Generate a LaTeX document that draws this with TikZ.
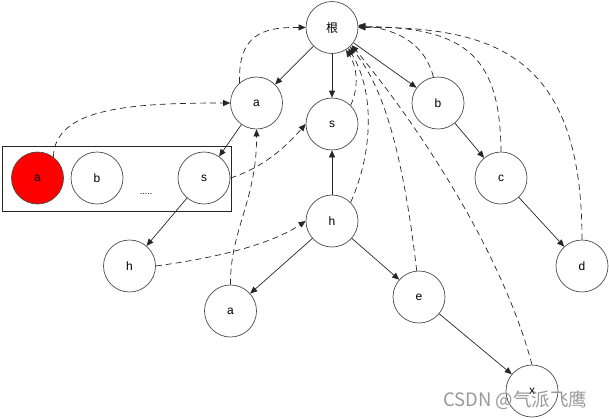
\documentclass[tikz,border=0pt]{standalone}
\usepackage{fontspec}
\setmainfont{Liberation Sans}
\newfontfamily\cjk{Noto Sans CJK SC}
\usetikzlibrary{arrows.meta}
\begin{document}
\begin{tikzpicture}[x=1pt,y=-1pt,
  vert/.style={circle,draw=black!70,line width=0.7pt,minimum size=52pt,inner sep=0pt,font=\fontsize{12}{14}\selectfont},
  tree/.style={draw=black!85,line width=0.7pt,-{Triangle[length=7pt,width=6pt]}},
  link/.style={draw=black!85,line width=0.7pt,dash pattern=on 6pt off 4pt,-{Triangle[length=7pt,width=6pt]}}]
\useasboundingbox (0,0) rectangle (609,418);
% frame with the array
\node[draw=black!85,line width=0.8pt,minimum width=229pt,minimum height=65pt,inner sep=0pt] (frame) at (116.5,178.5) {};
\node[vert,fill=red] (ra) at (37.5,178) {a};
\node[vert] (rb) at (97,178) {b};
\node[vert] (rs) at (204,178) {s};
\node[font=\fontsize{9}{10}\selectfont,inner sep=0pt] (dots) at (146,194) {.....};
% tree
\node[vert] (root) at (332,27.5) {\cjk 根};
\node[vert] (a1) at (256.5,103) {a};
\node[vert] (s1) at (332,124) {s};
\node[vert] (b1) at (438,103) {b};
\node[vert] (c1) at (501,178) {c};
\node[vert] (d1) at (582,266) {d};
\node[vert] (h1) at (332,221) {h};
\node[vert] (h2) at (129.5,266) {h};
\node[vert] (a2) at (230.5,311) {a};
\node[vert] (e1) at (419,297) {e};
\node[vert] (x1) at (532,391) {x};
% solid tree edges
\draw[tree] (root) -- (a1);
\draw[tree] (root) -- (s1);
\draw[tree] (root) -- (b1);
\draw[tree] (b1) -- (c1);
\draw[tree] (c1) -- (d1);
\draw[tree] (a1) -- (rs);
\draw[tree] (rs) -- (h2);
\draw[tree] (h1) -- (s1);
\draw[tree] (h1) -- (a2);
\draw[tree] (h1) -- (e1);
\draw[tree] (e1) -- (x1);
% dashed links
\draw[link] (ra.53) .. controls (55,108) and (130,103) .. (a1.west);
\draw[link] (a1.130) .. controls (238,35) and (262,27) .. (root.west);
\draw[link] (rs.east) .. controls (262,168) and (285,148) .. (s1.west);
\draw[link] (h2.east) .. controls (215,258) and (270,245) .. (h1.west);
\draw[link] (a2.north) .. controls (230,230) and (257,200) .. (a1.south);
\draw[link] (s1.45) .. controls (360,85) and (356,65) .. (root.-58);
\draw[link] (h1.45) .. controls (374,150) and (374,90) .. (root.-52);
\draw[link] (e1.95) .. controls (405,170) and (387,90) .. (root.-47);
\draw[link] (x1.north) .. controls (500,245) and (410,115) .. (root.-42);
\draw[link] (b1.100) .. controls (425,45) and (400,30) .. (root.5);
\draw[link] (c1.north) .. controls (500,60) and (470,27) .. (root.2);
\draw[link] (d1.north) .. controls (582,60) and (500,26) .. (root.east);
% watermark
\node[anchor=west,inner sep=0pt,text=black!40,font=\cjk\fontsize{18.5}{20}\selectfont] (wm) at (443,400) {CSDN @气派飞鹰};
\end{tikzpicture}
\end{document}
